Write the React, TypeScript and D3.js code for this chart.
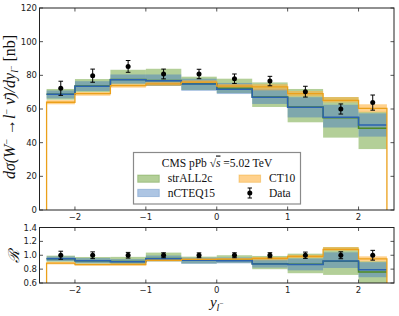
import * as d3 from 'd3';

// bin edges and data points (rapidity)
const edges = [-2.4, -2.0, -1.5, -1.0, -0.5, 0, 0.5, 1.0, 1.5, 2.0, 2.4];
const dataX = [-2.2, -1.75, -1.25, -0.75, -0.25, 0.25, 0.75, 1.25, 1.75, 2.2];
const dataY = [72.3, 79.8, 85.3, 80.8, 80.8, 78.0, 76.6, 70.3, 60.0, 63.8];
const dataErr = [4.2, 3.9, 3.5, 2.9, 2.8, 2.8, 2.8, 3.2, 3.0, 4.5];

// strALL2c
const strCentral = [68.7, 73.6, 77.5, 77.0, 75.0, 72.4, 67.2, 61.2, 54.8, 48.5];
const strLo = [65.5, 70.0, 74.5, 73.7, 71.3, 69.5, 61.2, 52.1, 43.0, 36.2];
const strHi = [71.9, 77.8, 83.3, 83.9, 79.2, 78.0, 75.8, 71.9, 67.1, 58.4];

// nCTEQ15
const ncCentral = [68.7, 73.5, 77.4, 76.8, 74.9, 71.7, 67.0, 61.0, 55.1, 50.5];
const ncLo = [66.3, 70.7, 75.0, 73.7, 70.8, 68.9, 63.0, 55.0, 49.0, 43.6];
const ncHi = [71.0, 76.5, 80.5, 80.5, 78.0, 75.5, 72.0, 67.0, 62.5, 57.4];

// CT10
const ctCentral = [64.0, 69.1, 73.9, 74.9, 76.0, 73.6, 73.1, 69.1, 65.1, 60.4];
const ctLo = [62.8, 67.9, 72.7, 73.8, 74.8, 72.5, 71.1, 67.5, 63.9, 58.0];
const ctHi = [65.3, 70.1, 75.0, 76.0, 77.0, 74.8, 74.7, 70.7, 67.1, 62.8];

const xTicks = [-2, -1, 0, 1, 2];
const yTicksTop = [0, 20, 40, 60, 80, 100, 120];
const yTicksRatio = [0.6, 0.8, 1.0, 1.2, 1.4];

const W = 399;
const H = 316;
const left = 39.5;
const right = 394;

const x = d3.scaleLinear().domain([-2.5, 2.5]).range([left, right]);
const yTop = d3.scaleLinear().domain([0, 120]).range([210, 8]);
const yRat = d3.scaleLinear().domain([0.6, 1.4]).range([283, 227.5]);

const GREEN_FILL = '#8ab661';
const BLUE_FILL = '#4a7fc0';
const ORANGE_FILL = '#ffb340';
const GREEN_LINE = '#4f8a23';
const BLUE_LINE = '#2b63b0';
const ORANGE_LINE = '#eba01a';

const tickFont = 'DejaVu Sans, sans-serif';
const serif = 'Liberation Serif, serif';

type Scale = d3.ScaleLinear<number, number>;

const stepPath = (vals: number[], y: Scale, drop?: number) => {
  const pts: [number, number][] = vals.map((v, i) => [edges[i], v]);
  pts.push([edges[edges.length - 1], vals[vals.length - 1]]);
  if (drop !== undefined) {
    pts.unshift([edges[0], drop]);
    pts.push([edges[edges.length - 1], drop]);
  }
  return d3
    .line<[number, number]>()
    .x((d) => x(d[0]))
    .y((d) => y(d[1]))
    .curve(d3.curveStepAfter)(pts) as string;
};

const Panel = ({
  y,
  ratio,
  id,
  yTicks,
  fmt,
}: {
  y: Scale;
  ratio: boolean;
  id: string;
  yTicks: number[];
  fmt: (v: number) => string;
}) => {
  const t = (vals: number[]) => (ratio ? vals.map((v, i) => v / dataY[i]) : vals);
  const [y0, y1] = y.range();
  const top = Math.min(y0, y1);
  const bottom = Math.max(y0, y1);
  const bands = [
    { lo: strLo, hi: strHi, fill: GREEN_FILL, op: 0.65 },
    { lo: ncLo, hi: ncHi, fill: BLUE_FILL, op: 0.5 },
    { lo: ctLo, hi: ctHi, fill: ORANGE_FILL, op: 0.6 },
  ];
  const ys = ratio ? dataY.map(() => 1) : dataY;
  const es = ratio ? dataErr.map((e, i) => e / dataY[i]) : dataErr;
  const tick = 3.5;
  return (
    <g>
      <defs>
        <clipPath id={id}>
          <rect x={left} y={top} width={right - left} height={bottom - top} />
        </clipPath>
      </defs>
      <g clipPath={`url(#${id})`}>
        {bands.map((b, k) => {
          const lo = t(b.lo);
          const hi = t(b.hi);
          return (
            <g key={k} fill={b.fill} fillOpacity={b.op}>
              {lo.map((l, i) => (
                <rect
                  key={i}
                  x={x(edges[i])}
                  width={x(edges[i + 1]) - x(edges[i])}
                  y={y(hi[i])}
                  height={y(l) - y(hi[i])}
                />
              ))}
            </g>
          );
        })}
        <path d={stepPath(t(strCentral), y)} fill="none" stroke={GREEN_LINE} strokeWidth={1.5} />
        <path d={stepPath(t(ncCentral), y)} fill="none" stroke={BLUE_LINE} strokeWidth={1.5} />
        <path
          d={stepPath(t(ctCentral), y, y.domain()[0] - 1)}
          fill="none"
          stroke={ORANGE_LINE}
          strokeWidth={1.3}
        />
        {dataX.map((dx, i) => (
          <g key={i} stroke="#000" strokeWidth={1}>
            <line x1={x(dx)} x2={x(dx)} y1={y(ys[i] - es[i])} y2={y(ys[i] + es[i])} />
            <line x1={x(dx) - 2.3} x2={x(dx) + 2.3} y1={y(ys[i] - es[i])} y2={y(ys[i] - es[i])} />
            <line x1={x(dx) - 2.3} x2={x(dx) + 2.3} y1={y(ys[i] + es[i])} y2={y(ys[i] + es[i])} />
            <circle cx={x(dx)} cy={y(ys[i])} r={2.5} fill="#000" stroke="none" />
          </g>
        ))}
      </g>
      {/* ticks on all four sides, inward */}
      <g stroke="#555" strokeWidth={1}>
        {xTicks.map((v) => (
          <g key={v}>
            <line x1={x(v)} x2={x(v)} y1={bottom} y2={bottom - tick} />
            <line x1={x(v)} x2={x(v)} y1={top} y2={top + tick} />
          </g>
        ))}
        {yTicks.map((v) => (
          <g key={v}>
            <line x1={left} x2={left + tick} y1={y(v)} y2={y(v)} />
            <line x1={right} x2={right - tick} y1={y(v)} y2={y(v)} />
          </g>
        ))}
      </g>
      <rect
        x={left}
        y={top}
        width={right - left}
        height={bottom - top}
        fill="none"
        stroke="#222"
        strokeWidth={1}
      />
      <g fontFamily={tickFont} fontSize={8.5} fill="#222">
        {yTicks.map((v) => (
          <text key={v} x={left - 2.5} y={y(v)} textAnchor="end" dominantBaseline="central">
            {fmt(v)}
          </text>
        ))}
        {xTicks.map((v) => (
          <text key={v} x={x(v)} y={bottom + 9.5} textAnchor="middle">
            {v < 0 ? `\u2212${Math.abs(v)}` : `${v}`}
          </text>
        ))}
      </g>
    </g>
  );
};

const Legend = () => {
  const bx = 133.5;
  const by = 152.5;
  return (
    <g fontFamily={serif} fontSize={11.5} fill="#111">
      <rect x={bx} y={by} width={167} height={51.5} fill="#fff" stroke="#8a8a8a" strokeWidth={1.2} />
      <text x={217} y={166.5} textAnchor="middle">
        CMS pPb {'\u221A'}
        <tspan fontStyle="italic" textDecoration="overline">s</tspan> =5.02 TeV
      </text>
      <rect x={137.7} y={175} width={21.6} height={7.3} fill={GREEN_FILL} fillOpacity={0.65} stroke={GREEN_LINE} strokeOpacity={0.35} />
      <text x={167.7} y={182.3}>strALL2c</text>
      <rect x={137.7} y={189.3} width={21.6} height={7.3} fill={BLUE_FILL} fillOpacity={0.45} stroke={BLUE_LINE} strokeOpacity={0.3} />
      <text x={167.7} y={196.8}>nCTEQ15</text>
      <rect x={239} y={175} width={21.6} height={7.3} fill={ORANGE_FILL} fillOpacity={0.6} stroke={ORANGE_LINE} strokeOpacity={0.4} />
      <text x={269} y={182.3}>CT10</text>
      <g stroke="#000">
        <line x1={249.8} x2={249.8} y1={188} y2={198} />
        <line x1={247.6} x2={252} y1={188} y2={188} />
        <line x1={247.6} x2={252} y1={198} y2={198} />
      </g>
      <circle cx={249.8} cy={193} r={2.5} fill="#000" />
      <text x={269} y={196.8}>Data</text>
    </g>
  );
};

export default function App() {
  return (
    <svg
      width={W}
      height={H}
      viewBox={`0 0 ${W} ${H}`}
      style={{ position: 'absolute', left: 0, top: 0, background: '#fff' }}
    >
      <Panel y={yTop} ratio={false} id="clipTop" yTicks={yTicksTop} fmt={(v) => `${v}`} />
      <Panel y={yRat} ratio={true} id="clipRat" yTicks={yTicksRatio} fmt={(v) => v.toFixed(1)} />
      <Legend />
      <text
        transform="translate(14.5,107) rotate(-90)"
        textAnchor="middle"
        fontFamily={serif}
        fontSize={16}
        fontStyle="italic"
        fill="#111"
      >
        d{'\u03C3'}(W
        <tspan dy={-5} fontSize={10} fontStyle="normal">{'\u2212'}</tspan>
        <tspan dy={5}> {'\u2192'}l</tspan>
        <tspan dy={-5} fontSize={10} fontStyle="normal">{'\u2212'}</tspan>
        <tspan dy={5}> {'\u03BD\u0304'})/dy</tspan>
        <tspan dy={3.5} fontSize={10}>l</tspan>
        <tspan dy={-4} fontSize={8} fontStyle="normal">{'\u2212'}</tspan>
        <tspan dy={0.5} fontStyle="normal"> [nb]</tspan>
      </text>
      <text
        transform="translate(19,256) rotate(-90)"
        textAnchor="middle"
        fontFamily="DejaVu Serif, serif"
        fontSize={15}
        fontStyle="italic"
        fill="#111"
      >
        {'\u211B'}
      </text>
      <text x={216.75} y={306.5} textAnchor="middle" fontFamily={serif} fontSize={15} fontStyle="italic" fill="#111">
        y
        <tspan dy={4} fontSize={10}>l</tspan>
        <tspan dy={-5} fontSize={7.5} fontStyle="normal">{'\u2212'}</tspan>
      </text>
    </svg>
  );
}
